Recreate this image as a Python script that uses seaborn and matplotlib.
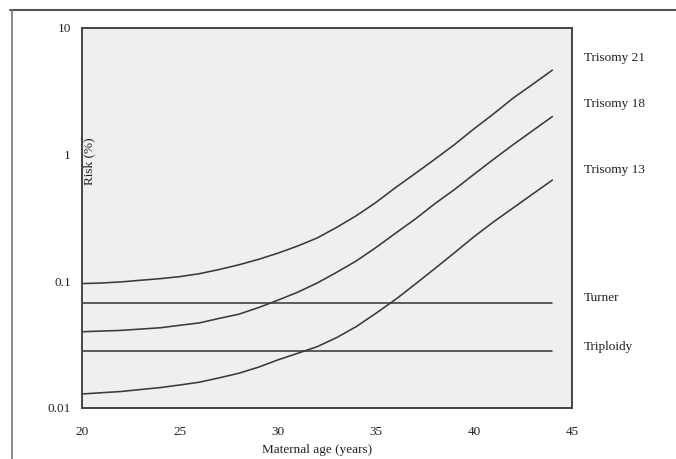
import pandas as pd
import seaborn as sns
import matplotlib.pyplot as plt
from matplotlib.lines import Line2D

# Maternal age (years)
ages = list(range(20, 45))

# Risk (%), one value per year of age
trisomy21 = [0.096, 0.097, 0.099, 0.102, 0.105, 0.109, 0.115, 0.124, 0.135, 0.149,
             0.167, 0.19, 0.22, 0.267, 0.33, 0.42, 0.55, 0.71, 0.92, 1.2,
             1.6, 2.1, 2.8, 3.6, 4.65]
trisomy18 = [0.040, 0.0405, 0.041, 0.042, 0.043, 0.045, 0.047, 0.051, 0.055, 0.062,
             0.071, 0.082, 0.097, 0.118, 0.145, 0.185, 0.24, 0.31, 0.41, 0.53,
             0.70, 0.92, 1.2, 1.55, 2.0]
trisomy13 = [0.0129, 0.0132, 0.0135, 0.014, 0.0145, 0.0152, 0.016, 0.0173, 0.0188, 0.021,
             0.024, 0.027, 0.0305, 0.036, 0.044, 0.056, 0.072, 0.095, 0.126, 0.168,
             0.225, 0.295, 0.38, 0.49, 0.63]
turner = [0.067] * len(ages)
triploidy = [0.028] * len(ages)

series_names = ["Trisomy 21", "Trisomy 18", "Trisomy 13", "Turner", "Triploidy"]
series_values = [trisomy21, trisomy18, trisomy13, turner, triploidy]

xticks = [20, 25, 30, 35, 40, 45]
yticks = [0.01, 0.1, 1, 10]
ytick_labels = ["0.01", "0.1", "1", "10"]

rows = []
for name, vals in zip(series_names, series_values):
    for a, v in zip(ages, vals):
        rows.append({"age": a, "risk": v, "condition": name})
df = pd.DataFrame(rows)

sns.set_style("white")
plt.rcParams["font.family"] = ["Liberation Serif", "DejaVu Serif"]

line_col = "#3a3a3a"
fig = plt.figure(figsize=(6.76, 4.59), dpi=100)
ax = fig.add_axes([82 / 676, 1 - 408 / 459, 490 / 676, 380 / 459])
ax.set_facecolor("#efefef")

sns.lineplot(data=df, x="age", y="risk", hue="condition", units="condition",
             estimator=None, palette=[line_col] * len(series_names),
             linewidth=1.15, legend=False, ax=ax)

ax.set_yscale("log")
ax.set_xlim(20, 45)
ax.set_ylim(0.01, 10)
ax.set_xticks(xticks)
ax.set_xticklabels([str(t) for t in xticks])
ax.set_yticks(yticks)
ax.set_yticklabels(ytick_labels)
ax.minorticks_off()
ax.tick_params(axis="both", which="major", direction="out", length=3, width=1,
               color="#444444", labelsize=9.5, labelcolor="#222222", pad=5)
ax.tick_params(axis="x", pad=10)

for s in ax.spines.values():
    s.set_color("#444444")
    s.set_linewidth(1.4)

ax.set_xlabel("Maternal age (years)", fontsize=9.5, color="#222222")
ax.xaxis.set_label_coords(0.48, -0.095)
ax.set_ylabel("Risk (%)", fontsize=9.5, color="#222222")
ax.yaxis.set_label_coords(0.028, 0.65)

# labels to the right of each curve
label_y = {"Trisomy 21": 58, "Trisomy 18": 104, "Trisomy 13": 170,
           "Turner": 298, "Triploidy": 347}
for name in series_names:
    fig.text(584 / 676, 1 - label_y[name] / 459, name, fontsize=9.5,
             color="#222222", va="center", ha="left")

# outer frame of the original figure
fig.add_artist(Line2D([10 / 676, 1.0], [1 - 10 / 459, 1 - 10 / 459],
                      transform=fig.transFigure, color="#555555", linewidth=1.5))
fig.add_artist(Line2D([12 / 676, 12 / 676], [1 - 10 / 459, 0.0],
                      transform=fig.transFigure, color="#777777", linewidth=1.2))

fig.savefig("out.png", dpi=100)
